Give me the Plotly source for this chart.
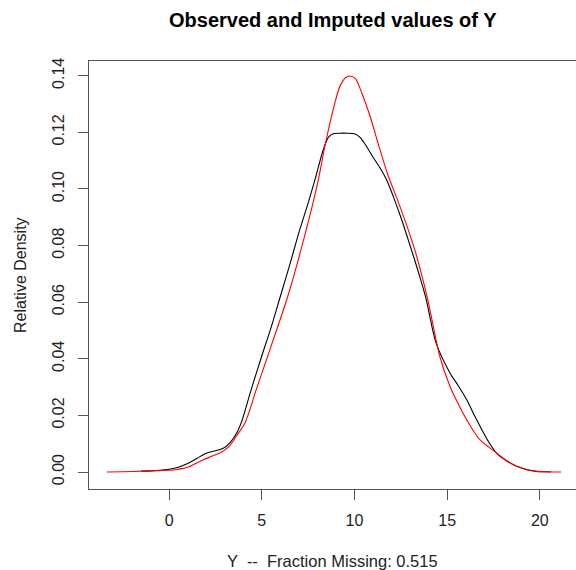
import plotly.graph_objects as go

# Density of observed values of Y
obs_x = [-1.5, -1.0, -0.5, 0.0, 0.5, 1.0, 1.5, 2.0, 2.5, 2.9, 3.3, 3.65, 3.95,
         4.4, 5.0, 5.5, 6.0, 6.5, 7.05, 7.5, 7.9, 8.3, 8.6, 8.85, 9.2, 9.6,
         10.0, 10.3, 10.65, 11.0, 11.4, 11.75, 12.1, 12.5, 13.0, 13.5, 13.85,
         14.4, 15.15, 15.6, 16.05, 16.5, 16.95, 17.3, 17.65, 18.2, 18.75,
         19.3, 19.8, 20.2, 20.6]
obs_y = [0.0003, 0.0004, 0.0006, 0.0010, 0.0017, 0.0030, 0.0048, 0.0066,
         0.0075, 0.0083, 0.0105, 0.0138, 0.0185, 0.0285, 0.0410, 0.0510,
         0.0620, 0.0730, 0.0856, 0.0950, 0.1040, 0.1135, 0.1183, 0.1195,
         0.1197, 0.1197, 0.1195, 0.1182, 0.1150, 0.1112, 0.1072, 0.1030,
         0.0972, 0.0900, 0.0800, 0.0695, 0.0615, 0.0456, 0.0350, 0.0305,
         0.0256, 0.0196, 0.0140, 0.0100, 0.0068, 0.0040, 0.0020, 0.0008,
         0.0002, 0.0001, 0.0000]

# Density of imputed values of Y
imp_x = [-3.35, -2.5, -1.5, -0.5, 0.0, 0.5, 1.0, 1.8, 2.4, 2.9, 3.3, 3.65,
         4.1, 4.7, 5.5, 6.4, 7.4, 8.05, 8.4, 8.85, 9.2, 9.5, 9.75, 10.05,
         10.4, 10.85, 11.3, 11.8, 12.3, 12.8, 13.3, 13.95, 14.6, 15.15, 15.6,
         16.05, 16.75, 17.65, 18.2, 18.75, 19.3, 19.8, 20.5, 21.15]
imp_y = [0.0000, 0.0001, 0.0003, 0.0005, 0.0006, 0.0010, 0.0017, 0.0042,
         0.0058, 0.0073, 0.0095, 0.0129, 0.0174, 0.0291, 0.0444, 0.0620,
         0.0856, 0.1032, 0.1150, 0.1280, 0.1360, 0.1392, 0.1399, 0.1390,
         0.1338, 0.1255, 0.1155, 0.1050, 0.0965, 0.0875, 0.0775, 0.0610,
         0.0409, 0.0303, 0.0240, 0.0185, 0.0115, 0.0068, 0.0040, 0.0020,
         0.0009, 0.0003, 0.0001, 0.0000]

x_ticks = [0, 5, 10, 15, 20]
y_ticks = [0.00, 0.02, 0.04, 0.06, 0.08, 0.10, 0.12, 0.14]

title_text = "Observed and Imputed values of Y"
x_title = "Y  --  Fraction Missing: 0.515"
y_title = "Relative Density"

FONT = "Liberation Sans, Arial, sans-serif"
AXIS_COLOR = "#555555"
TEXT_COLOR = "#222222"

fig = go.Figure()
fig.add_trace(go.Scatter(x=obs_x, y=obs_y, mode="lines",
                         line=dict(color="black", width=1.1, shape="spline", smoothing=0.8),
                         showlegend=False, hoverinfo="skip"))
fig.add_trace(go.Scatter(x=imp_x, y=imp_y, mode="lines",
                         line=dict(color="red", width=1.1, shape="spline", smoothing=0.8),
                         showlegend=False, hoverinfo="skip"))

fig.update_layout(
    width=576, height=570,
    margin=dict(l=89, r=0, t=61, b=81),
    paper_bgcolor="white", plot_bgcolor="white",
    font=dict(family=FONT, size=16, color=TEXT_COLOR),
    xaxis=dict(range=[-4.32, 21.95], tickvals=x_ticks, ticktext=[str(v) for v in x_ticks],
               showgrid=False, zeroline=False, showline=True, mirror=True,
               linecolor=AXIS_COLOR, linewidth=1.3,
               ticks="outside", ticklen=10, tickwidth=1.3, tickcolor=AXIS_COLOR,
               ticklabelstandoff=7, fixedrange=True),
    yaxis=dict(range=[-0.0060, 0.1452], tickvals=y_ticks,
               ticktext=[f"{v:.2f}" for v in y_ticks], tickangle=-90,
               showgrid=False, zeroline=False, showline=True, mirror=False,
               linecolor=AXIS_COLOR, linewidth=1.3,
               ticks="outside", ticklen=10, tickwidth=1.3, tickcolor=AXIS_COLOR,
               ticklabelstandoff=7, fixedrange=True),
    annotations=[
        dict(text="<b>" + title_text + "</b>", xref="paper", yref="paper",
             x=0.5, y=1, yshift=41, xanchor="center", yanchor="middle",
             showarrow=False, font=dict(size=20, color="black", family=FONT)),
        dict(text=x_title, xref="paper", yref="paper",
             x=0.5, y=0, yshift=-72, xanchor="center", yanchor="middle",
             showarrow=False, font=dict(size=16.5, color=TEXT_COLOR, family=FONT)),
        dict(text=y_title, xref="paper", yref="paper",
             x=0, y=0.5, xshift=-69, xanchor="center", yanchor="middle",
             textangle=-90, showarrow=False,
             font=dict(size=16, color=TEXT_COLOR, family=FONT)),
    ],
)

fig.write_html("out.html")
